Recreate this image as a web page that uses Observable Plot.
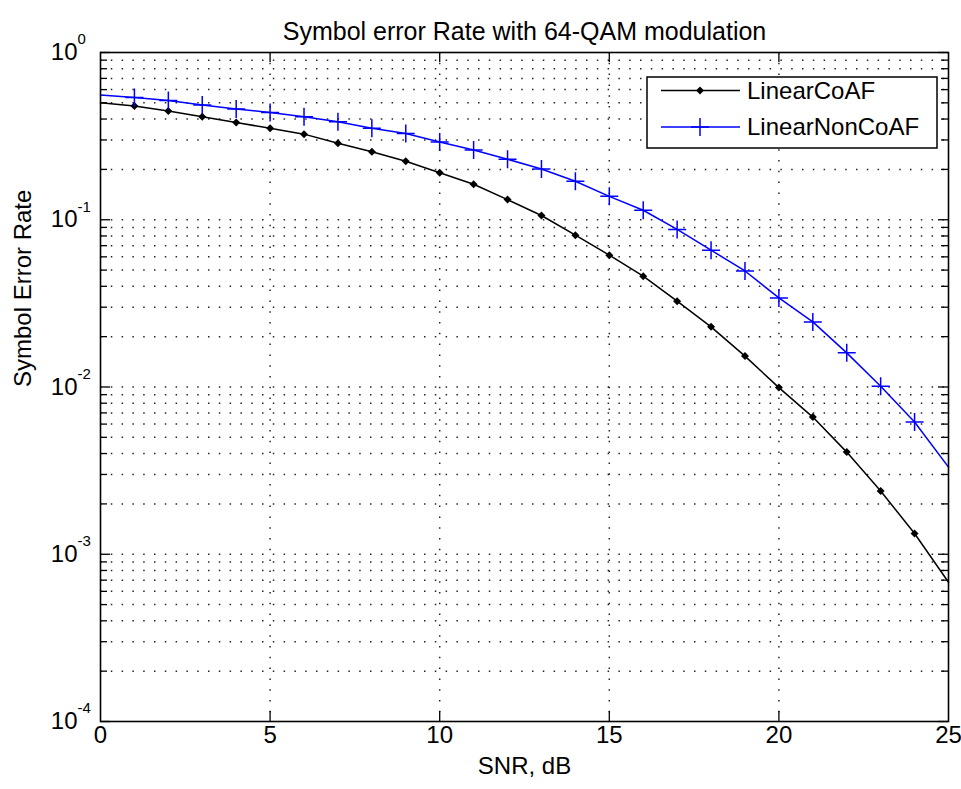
<!DOCTYPE html>
<html>
<head>
<meta charset="utf-8">
<script src="https://cdn.jsdelivr.net/npm/d3@7"></script>
<script src="https://cdn.jsdelivr.net/npm/@observablehq/plot@0.6"></script>
<style>
  html, body { margin: 0; padding: 0; background: #fff; }
  #chart svg { display: block; }
</style>
</head>
<body>
<div id="chart"></div>
<script>
// ---- data ----
const snr = [0,1,2,3,4,5,6,7,8,9,10,11,12,13,14,15,16,17,18,19,20,21,22,23,24,25];
const serCoAF = [0.500,0.478,0.447,0.413,0.382,0.352,0.325,0.287,0.255,0.224,0.191,0.163,0.132,0.106,0.0809,0.0614,0.0460,0.0326,0.0229,0.0153,0.00992,0.00661,0.00408,0.00239,0.00133,0.00068];
const serNonCoAF = [0.557,0.538,0.516,0.485,0.459,0.438,0.413,0.385,0.352,0.328,0.292,0.261,0.230,0.201,0.170,0.138,0.114,0.0875,0.0658,0.0494,0.0341,0.0245,0.0160,0.0101,0.00617,0.00332];
const markerSnr = [1,2,3,4,5,6,7,8,9,10,11,12,13,14,15,16,17,18,19,20,21,22,23,24];
const seriesNames = ["LinearCoAF", "LinearNonCoAF"];
const seriesColors = ["#000000", "#0000ff"];

const xTicks = [0, 5, 10, 15, 20, 25];
const xGrid = [5, 10, 15, 20];
const yDecades = [1e-4, 1e-3, 1e-2, 1e-1, 1];
const yExponents = ["-4", "-3", "-2", "-1", "0"];
const yMinorMultipliers = [2, 3, 4, 5, 6, 7, 8, 9];

const titleText = "Symbol error Rate with 64-QAM modulation";
const xLabel = "SNR, dB";
const yLabel = "Symbol Error Rate";

// ---- derived tables ----
const coaf = snr.map((x, i) => ({x, y: serCoAF[i]}));
const noncoaf = snr.map((x, i) => ({x, y: serNonCoAF[i]}));
const coafMarks = coaf.filter(d => markerSnr.includes(d.x));
const noncoafMarks = noncoaf.filter(d => markerSnr.includes(d.x));
const yMinor = yDecades.slice(0, -1).flatMap(d => yMinorMultipliers.map(m => m * d));
const decadeRows = yDecades.map((v, i) => ({v, e: yExponents[i]}));

const W = 961, H = 789;
const mL = 100, mR = 13, mT = 52, mB = 68;
const innerW = W - mL - mR, innerH = H - mT - mB;
const font = "'Liberation Sans', Arial, Helvetica, sans-serif";

const plusSymbol = {
  draw(context, size) {
    const r = Math.sqrt(size / Math.PI);
    context.moveTo(-r, 0); context.lineTo(r, 0);
    context.moveTo(0, -r); context.lineTo(0, r);
  }
};

const gridStyle = {stroke: "#000", strokeWidth: 1.5, strokeDasharray: "1.5,9.3", strokeOpacity: 0.85};

const svg = Plot.plot({
  width: W, height: H,
  marginLeft: mL, marginRight: mR, marginTop: mT, marginBottom: mB,
  style: {fontFamily: font, background: "#fff", color: "#000"},
  x: {type: "linear", domain: [0, 25], axis: null},
  y: {type: "log", domain: [1e-4, 1], axis: null},
  marks: [
    // dotted grid
    Plot.ruleY(yMinor, {...gridStyle}),
    Plot.ruleY(yDecades.slice(1, -1), {...gridStyle}),
    Plot.ruleX(xGrid, {...gridStyle}),
    // data lines
    Plot.line(coaf, {x: "x", y: "y", stroke: seriesColors[0], strokeWidth: 1.5}),
    Plot.line(noncoaf, {x: "x", y: "y", stroke: seriesColors[1], strokeWidth: 1.5}),
    Plot.dot(coafMarks, {x: "x", y: "y", symbol: "diamond2", r: 3.6, fill: seriesColors[0], stroke: "none"}),
    Plot.dot(noncoafMarks, {x: "x", y: "y", symbol: plusSymbol, r: 9, fill: "none", stroke: seriesColors[1], strokeWidth: 1.5}),
    // inward ticks (left/right)
    Plot.tickY(yDecades, {y: d => d, insetRight: innerW - 10, stroke: "#000", strokeWidth: 1.3}),
    Plot.tickY(yMinor, {y: d => d, insetRight: innerW - 7, stroke: "#000", strokeWidth: 1.3}),
    Plot.tickY(yDecades, {y: d => d, insetLeft: innerW - 10, stroke: "#000", strokeWidth: 1.3}),
    Plot.tickY(yMinor, {y: d => d, insetLeft: innerW - 7, stroke: "#000", strokeWidth: 1.3}),
    // inward ticks (bottom/top)
    Plot.tickX(xGrid, {x: d => d, insetTop: innerH - 10, stroke: "#000", strokeWidth: 1.3}),
    Plot.tickX(xGrid, {x: d => d, insetBottom: innerH - 10, stroke: "#000", strokeWidth: 1.3}),
    Plot.frame({stroke: "#000", strokeWidth: 1.6}),
    // tick labels
    Plot.text(xTicks, {x: d => d, frameAnchor: "bottom", dy: 21, text: d => String(d), fontSize: 24, fill: "#000"}),
    Plot.text(decadeRows, {y: "v", frameAnchor: "left", dx: -23, textAnchor: "end", text: () => "10", fontSize: 24, fill: "#000"}),
    Plot.text(decadeRows, {y: "v", frameAnchor: "left", dx: -23, dy: -13, textAnchor: "start", text: "e", fontSize: 15, fill: "#000"}),
    // axis labels & title
    Plot.text([xLabel], {frameAnchor: "bottom", dy: 52, text: d => d, fontSize: 24, fill: "#000"}),
    Plot.text([yLabel], {frameAnchor: "left", dx: -77, rotate: -90, text: d => d, fontSize: 24, fill: "#000"}),
    Plot.text([titleText], {frameAnchor: "top", dy: -30, text: d => d, fontSize: 25, fill: "#000"})
  ]
});

// ---- legend (inside the axes, top-right) ----
const lg = d3.select(svg).append("g").attr("font-family", font).attr("text-anchor", "start");
const box = {x: 647, y: 77, w: 290, h: 71};
lg.append("rect").attr("x", box.x).attr("y", box.y).attr("width", box.w).attr("height", box.h)
  .attr("fill", "#fff").attr("stroke", "#000").attr("stroke-width", 1.5);
seriesNames.forEach((name, i) => {
  const cy = box.y + 13.5 + i * 36.5;
  const g = lg.append("g");
  g.append("line").attr("x1", box.x + 14).attr("x2", box.x + 93).attr("y1", cy).attr("y2", cy)
    .attr("stroke", seriesColors[i]).attr("stroke-width", 1.5);
  const mx = box.x + 53;
  if (i === 0) {
    g.append("path").attr("d", d3.symbol(d3.symbolDiamond2, 3.6 * 3.6 * Math.PI)()).attr("transform", `translate(${mx},${cy})`).attr("fill", seriesColors[i]);
  } else {
    g.append("path").attr("d", `M${mx - 9},${cy}H${mx + 9}M${mx},${cy - 9}V${cy + 9}`).attr("stroke", seriesColors[i]).attr("stroke-width", 1.5);
  }
  g.append("text").attr("x", box.x + 100).attr("y", cy).attr("dy", "0.35em")
    .attr("text-anchor", "start").attr("font-size", 24).attr("fill", "#000").text(name);
});

document.getElementById("chart").appendChild(svg);
</script>
</body>
</html>
